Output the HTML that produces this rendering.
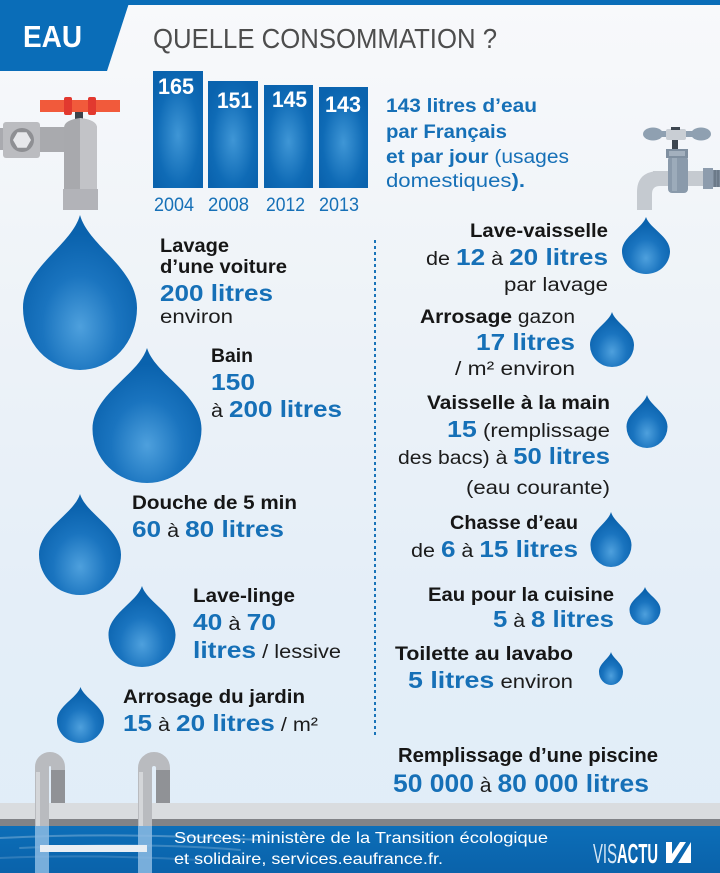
<!DOCTYPE html>
<html><head><meta charset="utf-8">
<style>
html,body{margin:0;padding:0;background:#eef3f8;}
svg{display:block;}
text{font-family:"Liberation Sans",sans-serif;}
.lb{font-weight:bold;fill:#161616;font-size:19px;}
.rg{fill:#1c1c1c;font-size:19px;font-weight:normal;}
.bn{fill:#1670b7;font-weight:bold;font-size:23px;}
.bt{fill:#1670b7;font-size:19px;}
</style></head>
<body>
<svg width="720" height="873" viewBox="0 0 720 873" xmlns="http://www.w3.org/2000/svg">
<defs>
  <linearGradient id="bg" x1="0" y1="0" x2="0" y2="1">
    <stop offset="0" stop-color="#f8f9fb"/>
    <stop offset="0.35" stop-color="#eef3f8"/>
    <stop offset="0.7" stop-color="#e4eef8"/>
    <stop offset="1" stop-color="#e0edf8"/>
  </linearGradient>
  <radialGradient id="dg" cx="0.5" cy="0.72" r="0.6">
    <stop offset="0" stop-color="#4ea0dd"/>
    <stop offset="0.55" stop-color="#1a74bf"/>
    <stop offset="1" stop-color="#0a62ad"/>
  </radialGradient>
  <radialGradient id="barg" cx="0.5" cy="0.55" r="0.6">
    <stop offset="0" stop-color="#3f96d6"/>
    <stop offset="0.7" stop-color="#0f6bb6"/>
    <stop offset="1" stop-color="#0a63ae"/>
  </radialGradient>
  <linearGradient id="water" x1="0" y1="0" x2="0" y2="1">
    <stop offset="0" stop-color="#0c6eb8"/>
    <stop offset="1" stop-color="#0a62aa"/>
  </linearGradient>
</defs>

<rect x="0" y="0" width="720" height="873" fill="url(#bg)"/>

<!-- header -->
<rect x="0" y="0" width="720" height="5" fill="#0a6db8"/>
<polygon points="0,0 130,0 107,71 0,71" fill="#0a6db8"/>
<text x="23" y="47" font-size="31" font-weight="bold" fill="#ffffff" textLength="59" lengthAdjust="spacingAndGlyphs">EAU</text>
<text x="153" y="48" font-size="28" fill="#4d4d4d" textLength="344" lengthAdjust="spacingAndGlyphs">QUELLE CONSOMMATION ?</text>

<!-- bars -->
<rect x="153" y="71" width="50" height="117" fill="url(#barg)"/>
<rect x="208" y="81" width="50" height="107" fill="url(#barg)"/>
<rect x="264" y="85" width="49" height="103" fill="url(#barg)"/>
<rect x="319" y="87" width="49" height="101" fill="url(#barg)"/>
<g font-size="22" font-weight="bold" fill="#ffffff">
<text x="158" y="94" textLength="36" lengthAdjust="spacingAndGlyphs">165</text>
<text x="217" y="108" textLength="35" lengthAdjust="spacingAndGlyphs">151</text>
<text x="272" y="107" textLength="35" lengthAdjust="spacingAndGlyphs">145</text>
<text x="325" y="112" textLength="36" lengthAdjust="spacingAndGlyphs">143</text>
</g>
<g font-size="19" fill="#1670b7">
<text x="154" y="211" textLength="40" lengthAdjust="spacingAndGlyphs">2004</text>
<text x="208" y="211" textLength="41" lengthAdjust="spacingAndGlyphs">2008</text>
<text x="266" y="211" textLength="39" lengthAdjust="spacingAndGlyphs">2012</text>
<text x="319" y="211" textLength="40" lengthAdjust="spacingAndGlyphs">2013</text>
</g>

<!-- intro text -->
<text x="386" y="112" class="bt" font-weight="bold" textLength="151" lengthAdjust="spacingAndGlyphs">143 litres d’eau</text>
<text x="386" y="138" class="bt" font-weight="bold" textLength="121" lengthAdjust="spacingAndGlyphs">par Français</text>
<text x="386" y="163" class="bt" textLength="183" lengthAdjust="spacingAndGlyphs"><tspan font-weight="bold">et par jour</tspan> (usages</text>
<text x="386" y="187" class="bt" textLength="139" lengthAdjust="spacingAndGlyphs">domestiques<tspan font-weight="bold">).</tspan></text>

<!-- left tap -->
<rect x="0" y="128" width="4" height="22" fill="#a9aaaf"/>
<rect x="3" y="122" width="37" height="36" rx="3" fill="#bbbcc0"/>
<circle cx="22" cy="140" r="12" fill="#8e8f93"/>
<polygon points="31,140 26.5,147.8 17.5,147.8 13,140 17.5,132.2 26.5,132.2" fill="#e6e7ea"/>
<rect x="40" y="127" width="30" height="25" fill="#a9aaae"/>
<rect x="75" y="111" width="8" height="9" fill="#3c424a"/>
<path d="M64,189 V128 Q64,120 80,118 Q97,120 97,128 V189 Z" fill="#a8a9ad"/>
<path d="M80,118 Q97,120 97,128 V189 H80 Z" fill="#c2c3c7"/>
<rect x="63" y="189" width="35" height="21" fill="#b2b3b8"/>
<rect x="40" y="100" width="80" height="12" fill="#f15a3b"/>
<rect x="64" y="97" width="8" height="18" rx="2" fill="#e2392f"/>
<rect x="88" y="97" width="8" height="18" rx="2" fill="#e2392f"/>

<!-- right faucet -->
<rect x="653" y="171" width="52" height="15" fill="#c5cad0"/>
<path d="M660,171 Q637,171 637,192 V210 H652 V194 Q652,186 660,186 Z" fill="#c5cad0"/>
<rect x="703" y="168" width="10" height="21" fill="#8d9cad"/>
<rect x="713" y="170" width="7" height="17" fill="#7c8a9a"/>
<g stroke="#5d6a78" stroke-width="1">
<line x1="715" y1="170" x2="715" y2="187"/><line x1="718" y1="170" x2="718" y2="187"/>
</g>
<rect x="668" y="156" width="20" height="37" rx="4" fill="#8a9aab"/>
<rect x="672" y="158" width="5" height="33" fill="#9cabba"/>
<rect x="666" y="149" width="22" height="9" fill="#7f8fa0"/>
<rect x="669" y="151" width="16" height="5" fill="#a3b0be"/>
<rect x="672" y="140" width="6" height="9" fill="#3d4650"/>
<ellipse cx="653" cy="134" rx="10" ry="6.5" fill="#8fa0b1"/>
<ellipse cx="701" cy="134" rx="10" ry="6.5" fill="#8fa0b1"/>
<rect x="653" y="131" width="48" height="6" fill="#8fa0b1"/>
<rect x="666" y="129" width="20" height="11" rx="2" fill="#c9ced4"/>
<rect x="671" y="127" width="9" height="3" fill="#3d4650"/>

<!-- dotted divider -->
<line x1="375" y1="240" x2="375" y2="735" stroke="#1a74b9" stroke-width="2" stroke-dasharray="3 3"/>

<!-- drops -->
<g fill="url(#dg)">
<path d="M0,0 C0.15,0.5 1,0.85 1,1.5 A1,1 0 0 1 -1,1.5 C-1,0.85 -0.15,0.5 0,0Z" transform="translate(80,215) scale(57,62)"/>
<path d="M0,0 C0.15,0.5 1,0.85 1,1.5 A1,1 0 0 1 -1,1.5 C-1,0.85 -0.15,0.5 0,0Z" transform="translate(147,348) scale(54.5,54)"/>
<path d="M0,0 C0.15,0.5 1,0.85 1,1.5 A1,1 0 0 1 -1,1.5 C-1,0.85 -0.15,0.5 0,0Z" transform="translate(80,494) scale(41,40.4)"/>
<path d="M0,0 C0.15,0.5 1,0.85 1,1.5 A1,1 0 0 1 -1,1.5 C-1,0.85 -0.15,0.5 0,0Z" transform="translate(142,586) scale(33.5,32.4)"/>
<path d="M0,0 C0.15,0.5 1,0.85 1,1.5 A1,1 0 0 1 -1,1.5 C-1,0.85 -0.15,0.5 0,0Z" transform="translate(80.5,687) scale(23.5,22.4)"/>
<path d="M0,0 C0.15,0.5 1,0.85 1,1.5 A1,1 0 0 1 -1,1.5 C-1,0.85 -0.15,0.5 0,0Z" transform="translate(646,217) scale(24,22.8)"/>
<path d="M0,0 C0.15,0.5 1,0.85 1,1.5 A1,1 0 0 1 -1,1.5 C-1,0.85 -0.15,0.5 0,0Z" transform="translate(612,312) scale(22,22)"/>
<path d="M0,0 C0.15,0.5 1,0.85 1,1.5 A1,1 0 0 1 -1,1.5 C-1,0.85 -0.15,0.5 0,0Z" transform="translate(647,395) scale(20.5,21.2)"/>
<path d="M0,0 C0.15,0.5 1,0.85 1,1.5 A1,1 0 0 1 -1,1.5 C-1,0.85 -0.15,0.5 0,0Z" transform="translate(611,512) scale(20.5,22)"/>
<path d="M0,0 C0.15,0.5 1,0.85 1,1.5 A1,1 0 0 1 -1,1.5 C-1,0.85 -0.15,0.5 0,0Z" transform="translate(645,587) scale(15.5,15.2)"/>
<path d="M0,0 C0.15,0.5 1,0.85 1,1.5 A1,1 0 0 1 -1,1.5 C-1,0.85 -0.15,0.5 0,0Z" transform="translate(611,652) scale(12,13.2)"/>
</g>

<!-- left column text -->
<text x="160" y="252" class="lb" textLength="69" lengthAdjust="spacingAndGlyphs">Lavage</text>
<text x="160" y="273" class="lb" textLength="127" lengthAdjust="spacingAndGlyphs">d’une voiture</text>
<text x="160" y="301" class="bn" textLength="113" lengthAdjust="spacingAndGlyphs">200 litres</text>
<text x="160" y="323" class="rg" textLength="73" lengthAdjust="spacingAndGlyphs">environ</text>

<text x="211" y="362" class="lb" textLength="42" lengthAdjust="spacingAndGlyphs">Bain</text>
<text x="211" y="390" class="bn" textLength="44" lengthAdjust="spacingAndGlyphs">150</text>
<text x="211" y="417" textLength="131" lengthAdjust="spacingAndGlyphs"><tspan class="rg">à </tspan><tspan class="bn">200 litres</tspan></text>

<text x="132" y="509" class="lb" textLength="165" lengthAdjust="spacingAndGlyphs">Douche de 5 min</text>
<text x="132" y="537" textLength="152" lengthAdjust="spacingAndGlyphs"><tspan class="bn">60</tspan><tspan class="rg"> à </tspan><tspan class="bn">80 litres</tspan></text>

<text x="193" y="602" class="lb" textLength="102" lengthAdjust="spacingAndGlyphs">Lave-linge</text>
<text x="193" y="630" textLength="83" lengthAdjust="spacingAndGlyphs"><tspan class="bn">40</tspan><tspan class="rg"> à </tspan><tspan class="bn">70</tspan></text>
<text x="193" y="658" textLength="148" lengthAdjust="spacingAndGlyphs"><tspan class="bn">litres</tspan><tspan class="rg"> / lessive</tspan></text>

<text x="123" y="703" class="lb" textLength="182" lengthAdjust="spacingAndGlyphs">Arrosage du jardin</text>
<text x="123" y="731" textLength="195" lengthAdjust="spacingAndGlyphs"><tspan class="bn">15</tspan><tspan class="rg"> à </tspan><tspan class="bn">20 litres</tspan><tspan class="rg"> / m²</tspan></text>

<!-- right column text -->
<text x="470" y="237" class="lb" textLength="138" lengthAdjust="spacingAndGlyphs">Lave-vaisselle</text>
<text x="426" y="265" textLength="182" lengthAdjust="spacingAndGlyphs"><tspan class="rg">de </tspan><tspan class="bn">12</tspan><tspan class="rg"> à </tspan><tspan class="bn">20 litres</tspan></text>
<text x="504" y="291" class="rg" textLength="104" lengthAdjust="spacingAndGlyphs">par lavage</text>

<text x="420" y="323" textLength="155" lengthAdjust="spacingAndGlyphs"><tspan class="lb">Arrosage</tspan><tspan class="rg"> gazon</tspan></text>
<text x="476" y="350" class="bn" textLength="99" lengthAdjust="spacingAndGlyphs">17 litres</text>
<text x="455" y="375" class="rg" textLength="120" lengthAdjust="spacingAndGlyphs">/ m² environ</text>

<text x="427" y="409" class="lb" textLength="183" lengthAdjust="spacingAndGlyphs">Vaisselle à la main</text>
<text x="447" y="437" textLength="163" lengthAdjust="spacingAndGlyphs"><tspan class="bn">15</tspan><tspan class="rg"> (remplissage</tspan></text>
<text x="398" y="464" textLength="212" lengthAdjust="spacingAndGlyphs"><tspan class="rg">des bacs) à </tspan><tspan class="bn">50 litres</tspan></text>
<text x="466" y="494" class="rg" textLength="144" lengthAdjust="spacingAndGlyphs">(eau courante)</text>

<text x="450" y="529" class="lb" textLength="128" lengthAdjust="spacingAndGlyphs">Chasse d’eau</text>
<text x="411" y="557" textLength="167" lengthAdjust="spacingAndGlyphs"><tspan class="rg">de </tspan><tspan class="bn">6</tspan><tspan class="rg"> à </tspan><tspan class="bn">15 litres</tspan></text>

<text x="428" y="601" class="lb" textLength="186" lengthAdjust="spacingAndGlyphs">Eau pour la cuisine</text>
<text x="493" y="627" textLength="121" lengthAdjust="spacingAndGlyphs"><tspan class="bn">5</tspan><tspan class="rg"> à </tspan><tspan class="bn">8 litres</tspan></text>

<text x="395" y="660" class="lb" textLength="178" lengthAdjust="spacingAndGlyphs">Toilette au lavabo</text>
<text x="408" y="688" textLength="165" lengthAdjust="spacingAndGlyphs"><tspan class="bn">5 litres</tspan><tspan class="rg"> environ</tspan></text>

<text x="398" y="762" class="lb" font-size="20" style="font-size:20px" textLength="260" lengthAdjust="spacingAndGlyphs">Remplissage d’une piscine</text>
<text x="393" y="792" textLength="256" lengthAdjust="spacingAndGlyphs"><tspan class="bn" style="font-size:25px">50 000</tspan><tspan class="rg" style="font-size:20px"> à </tspan><tspan class="bn" style="font-size:25px">80 000 litres</tspan></text>

<!-- pool -->
<rect x="0" y="803" width="720" height="16" fill="#d9dcdf"/>
<rect x="0" y="819" width="720" height="7" fill="#818387"/>
<rect x="0" y="826" width="720" height="47" fill="url(#water)"/>
<g stroke="#ffffff" stroke-linecap="round" fill="none">
<path d="M0,838 Q120,832 260,840" stroke-opacity="0.25" stroke-width="2"/>
<path d="M20,848 Q150,842 240,850" stroke-opacity="0.2" stroke-width="2"/>
<path d="M0,858 Q90,854 200,860" stroke-opacity="0.15" stroke-width="2"/>
</g>

<!-- ladder -->
<g fill="none" stroke-width="14">
<path d="M42,826 V767 A8,8 0 0 1 58,767 V803" stroke="#b9bbbf"/>
<path d="M145,826 V768 A9,9 0 0 1 163,768 V803" stroke="#b9bbbf"/>
<line x1="58" y1="770" x2="58" y2="803" stroke="#909296"/>
<line x1="163" y1="770" x2="163" y2="803" stroke="#909296"/>
<line x1="42" y1="826" x2="42" y2="873" stroke="#8cbbe3" stroke-opacity="0.85"/>
<line x1="145" y1="826" x2="145" y2="873" stroke="#8cbbe3" stroke-opacity="0.85"/>
</g>
<line x1="38" y1="772" x2="38" y2="826" stroke="#d4d6d9" stroke-width="4"/>
<line x1="141" y1="772" x2="141" y2="826" stroke="#d4d6d9" stroke-width="4"/>
<rect x="40" y="845" width="107" height="7" fill="#e8eef4"/>

<!-- footer text -->
<text x="174" y="843" font-size="16" fill="#ffffff" textLength="374" lengthAdjust="spacingAndGlyphs">Sources: ministère de la Transition écologique</text>
<text x="174" y="864" font-size="16" fill="#ffffff" textLength="269" lengthAdjust="spacingAndGlyphs">et solidaire, services.eaufrance.fr.</text>

<!-- logo -->
<text x="593" y="863" font-size="28" fill="#d6e7f5" textLength="24" lengthAdjust="spacingAndGlyphs">VIS</text>
<text x="617" y="863" font-size="28" font-weight="bold" fill="#ffffff" textLength="41" lengthAdjust="spacingAndGlyphs">ACTU</text>
<polygon points="666,842 672,842 672,854 680,842 686,842 672,863 666,863" fill="#ffffff"/>
<polygon points="678,863 691,842 691,863" fill="#ffffff"/>
</svg>
</body></html>
